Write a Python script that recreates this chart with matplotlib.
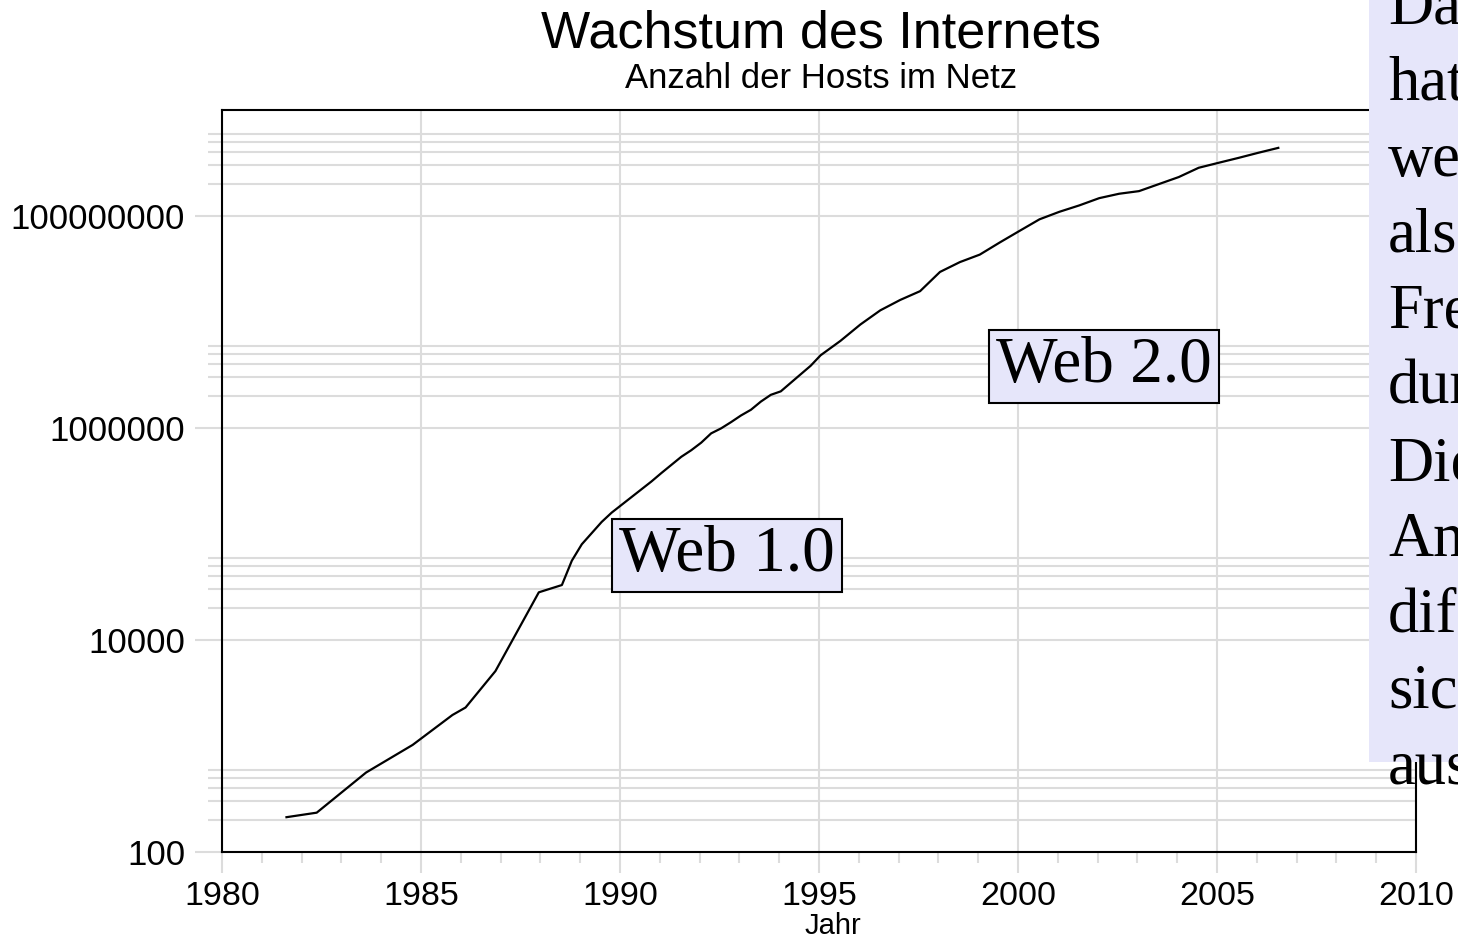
import matplotlib
matplotlib.use("Agg")
import matplotlib.pyplot as plt
import numpy as np
from matplotlib.patches import Rectangle
from matplotlib.ticker import FixedLocator, NullFormatter

# ---- data ----
years = [1981.62, 1982.38, 1983.62, 1984.79, 1985.79, 1986.12, 1986.87, 1987.96,
         1988.54, 1988.79, 1989.04, 1989.54, 1989.79, 1990.79, 1991.04, 1991.54,
         1991.79, 1992.04, 1992.29, 1992.54, 1992.79, 1993.04, 1993.29, 1993.54,
         1993.79, 1994.04, 1994.54, 1994.79, 1995.04, 1995.54, 1996.04, 1996.54,
         1997.04, 1997.54, 1998.04, 1998.54, 1999.04, 1999.54, 2000.04, 2000.54,
         2001.04, 2001.54, 2002.04, 2002.54, 2003.04, 2004.04, 2004.54, 2005.04,
         2005.54, 2006.04, 2006.54]
hosts = [213, 235, 562, 1024, 1961, 2308, 5089, 28174,
         33000, 56000, 80000, 130000, 159000, 313000, 376000, 535000,
         617000, 727000, 890000, 992000, 1136000, 1313000, 1486000, 1776000,
         2056000, 2217000, 3212000, 3864000, 4852000, 6642000, 9472000, 12881000,
         16146000, 19540000, 29670000, 36739000, 43230000, 56218000, 72398000, 93048000,
         109574000, 125888000, 147345000, 162128000, 171638000, 233101000, 285139000, 317646000,
         353284000, 394992000, 439286000]

title = "Wachstum des Internets"
subtitle = "Anzahl der Hosts im Netz"
xlabel = "Jahr"
xticks = [1980, 1985, 1990, 1995, 2000, 2005, 2010]
yticks = [1e2, 1e4, 1e6, 1e8]
ytick_labels = ["100", "10000", "1000000", "100000000"]
labels = [("Web 1.0", 1992.68, 10**4.797), ("Web 2.0", 2002.16, 10**6.58)]
side_lines = ["Da", "hat", "we", "als", "Fre", "dur", "Die", "An", "dif", "sic", "aus"]

W, H = 1458, 941
plt.rcParams['font.family'] = ['Liberation Sans', 'DejaVu Sans']
fig = plt.figure(figsize=(W / 100, H / 100), dpi=100)
fig.patch.set_facecolor('white')

L, R, T, B = 222, 1416, 110, 852
ax = fig.add_axes([L / W, 1 - B / H, (R - L) / W, (B - T) / H])
ax.set_yscale('log')
ax.set_xlim(1980, 2010)
ax.set_ylim(1e2, 1e9)

grid_c = '#dcdcdc'
ax.plot(years, hosts, color='black', lw=1.6, zorder=3)

# ticks
ax.xaxis.set_major_locator(FixedLocator(xticks))
ax.xaxis.set_minor_locator(FixedLocator(list(range(1980, 2011))))
ax.xaxis.set_minor_formatter(NullFormatter())
ax.set_xticklabels([str(x) for x in xticks])
ax.yaxis.set_major_locator(FixedLocator(yticks))
ax.set_yticklabels(ytick_labels)
minor_y = [m * 10.0 ** k for k in (2, 4, 6, 8) for m in (2, 3, 4, 5, 6)]
ax.yaxis.set_minor_locator(FixedLocator(minor_y))
ax.yaxis.set_minor_formatter(NullFormatter())

ax.tick_params(axis='x', which='major', length=15, width=1.5, color=grid_c,
               labelsize=24.5, pad=6)
ax.tick_params(axis='x', which='minor', length=8, width=1.5, color=grid_c)
ax.tick_params(axis='y', which='major', length=19.5, width=1.5, color=grid_c,
               labelsize=25, pad=7)
ax.tick_params(axis='y', which='minor', length=10, width=1.5, color=grid_c)

ax.grid(True, which='major', axis='both', color=grid_c, lw=1.5, zorder=0)
ax.grid(True, which='minor', axis='y', color=grid_c, lw=1.5, zorder=0)
ax.set_axisbelow(True)
for s in ax.spines.values():
    s.set_color('black')
    s.set_linewidth(1.5)
    s.set_zorder(4)

for txt, xv, yv in labels:
    ax.text(xv, yv, txt, family='Liberation Serif', fontsize=47, ha='center',
            va='center', zorder=5,
            bbox=dict(boxstyle='square,pad=0.11', facecolor='#e6e6fa',
                      edgecolor='black', lw=1.5))

fig.text(821 / W, 1 - 34 / H, title, ha='center', va='center', fontsize=37.5)
fig.text(821 / W, 1 - 79 / H, subtitle, ha='center', va='center', fontsize=25)
fig.text(833 / W, 1 - 926 / H, xlabel, ha='center', va='center', fontsize=21)

# lavender side box with cut-off text
fig.patches.append(Rectangle((1369 / W, 1 - 762 / H), 0.2, 1.0,
                             transform=fig.transFigure, facecolor='#e6e6fa',
                             edgecolor='none', zorder=10))
for i, s in enumerate(side_lines):
    fig.text(1388 / W, 1 - (24 + 76 * i) / H, s, family='Liberation Serif',
             fontsize=45, ha='left', va='baseline', zorder=11)

fig.savefig('out.png', dpi=100)
